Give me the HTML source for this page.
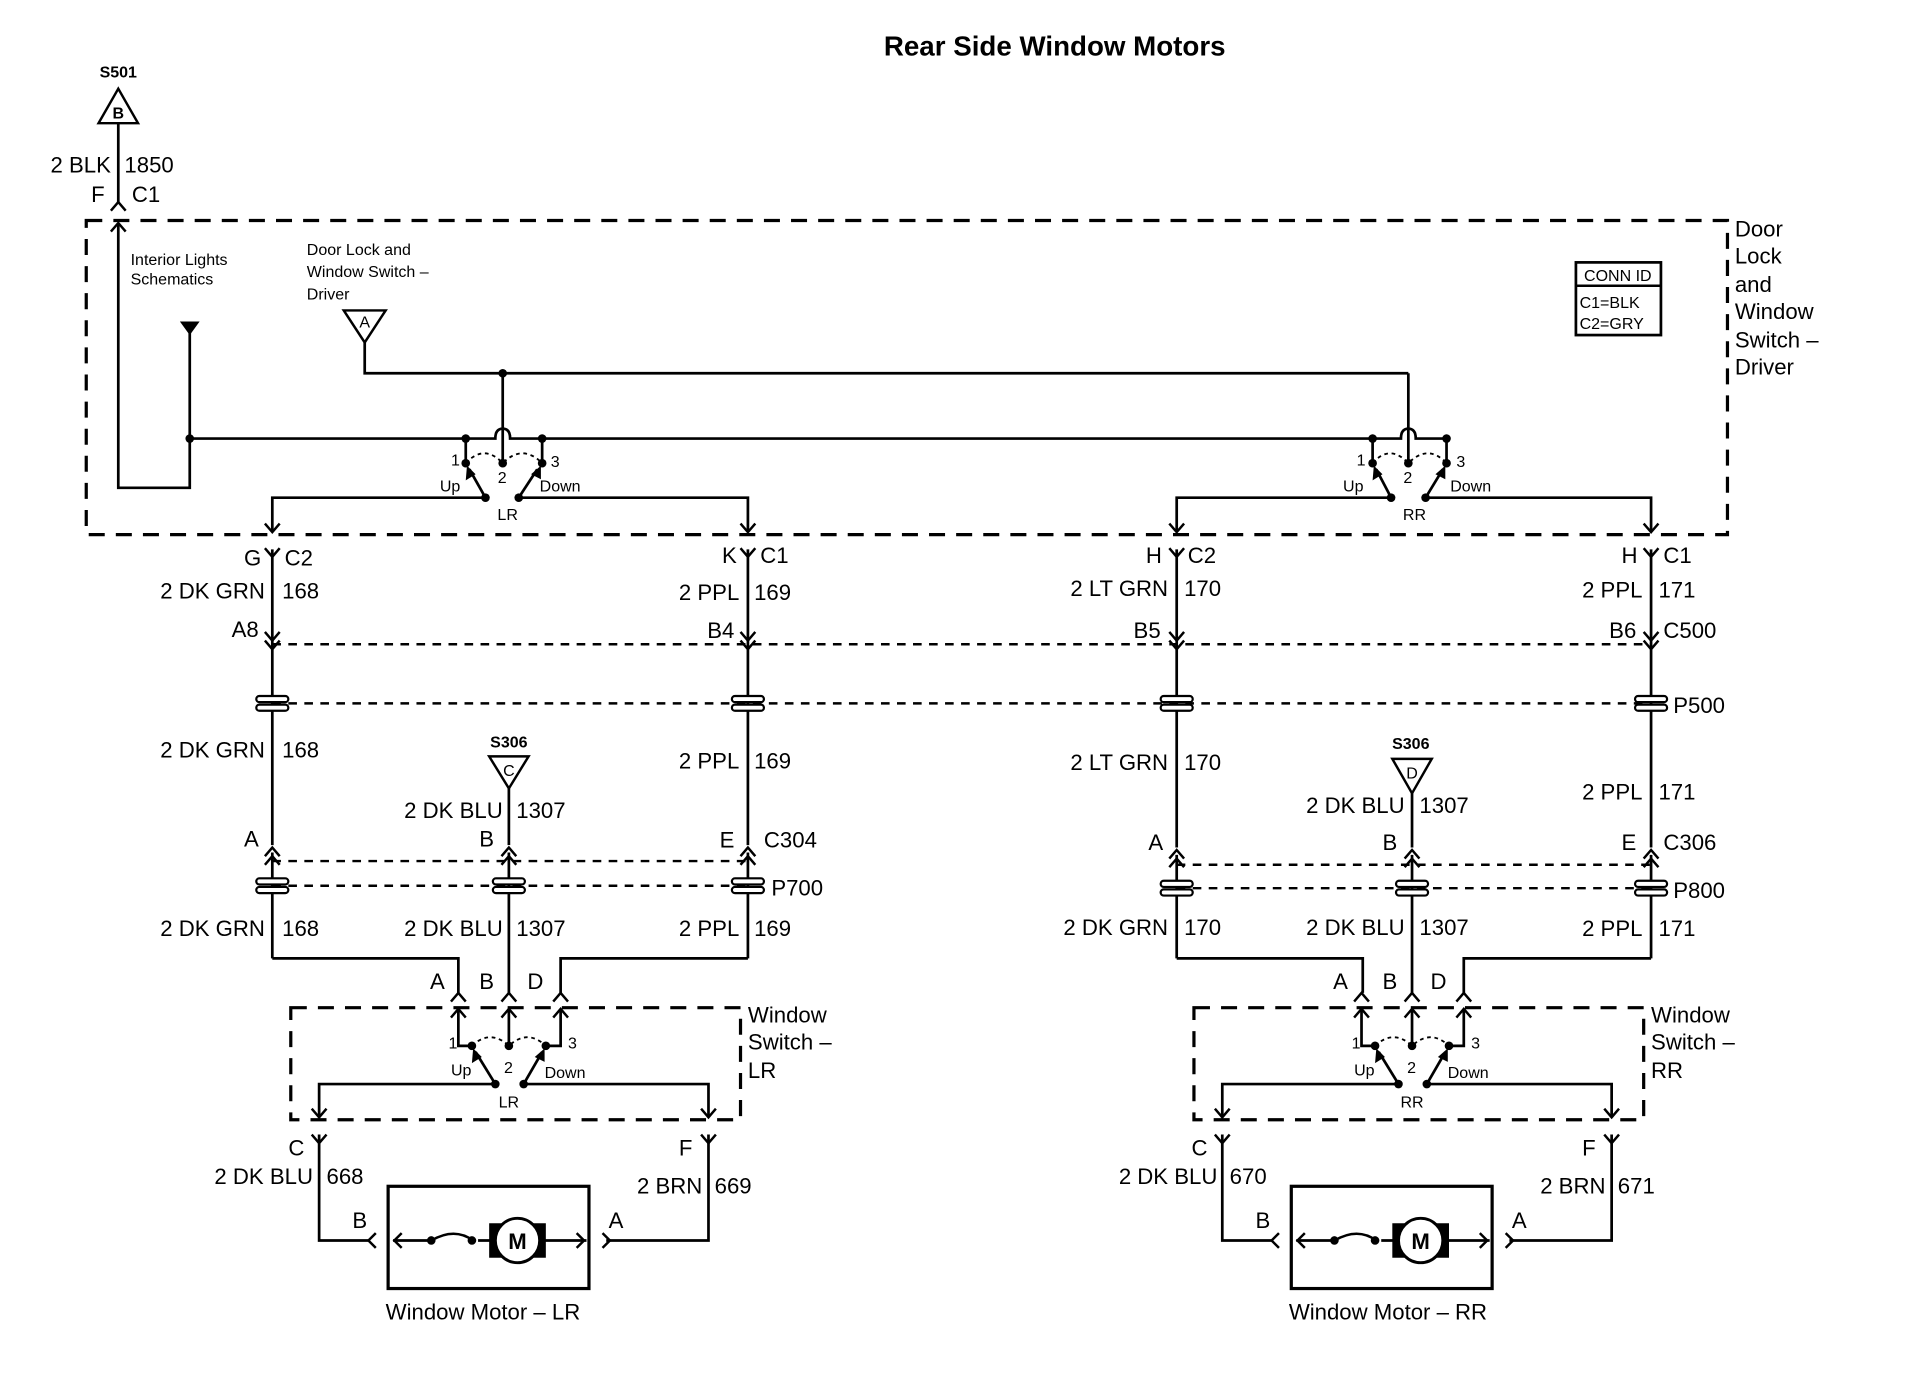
<!DOCTYPE html>
<html><head><meta charset="utf-8"><style>
html,body{margin:0;padding:0;background:#fff;}
svg{display:block;}
text{font-family:"Liberation Sans",Arial,sans-serif;fill:#000;}
.w{font-size:18px;}
.s{font-size:13px;}
.m{font-size:14px;}
</style></head><body>
<svg width="1932" height="1376" viewBox="0 0 1568 1117" preserveAspectRatio="none" xmlns="http://www.w3.org/2000/svg">
<defs>
<path id="cd" d="M-6,-7 L0,0 L6,-7" fill="none" stroke="#000" stroke-width="2"/>
<path id="cu" d="M-6,7 L0,0 L6,7" fill="none" stroke="#000" stroke-width="2"/>
<g id="gr"><rect x="-13" y="-6" width="26" height="5" rx="2.5" fill="#fff" stroke="#000" stroke-width="1.8"/><rect x="-13" y="1" width="26" height="5" rx="2.5" fill="#fff" stroke="#000" stroke-width="1.8"/></g>
</defs>
<text x="856" y="45" text-anchor="middle" font-size="22.5" font-weight="bold">Rear Side Window Motors</text>

<!-- S501 -->
<text x="96" y="63" text-anchor="middle" font-size="13" font-weight="bold">S501</text>
<path d="M80,100 L112,100 L96,72 Z" fill="none" stroke="#000" stroke-width="2"/>
<text x="96" y="96" text-anchor="middle" class="s" font-weight="bold">B</text>
<text x="90" y="140" text-anchor="end" class="w">2 BLK</text>
<text x="101" y="140" class="w">1850</text>
<text x="85" y="164" text-anchor="end" class="w">F</text>
<text x="107" y="164" class="w">C1</text>
<use href="#cu" x="96" y="164"/>
<use href="#cu" x="96" y="181"/>

<g stroke="#000" stroke-width="2.2" fill="none">
<line x1="96" y1="100" x2="96" y2="164"/>
<rect x="70" y="179" width="1332" height="255" stroke-dasharray="13,9" stroke-width="2.6"/>
<polyline points="96,181 96,396 154,396 154,266"/>
<line x1="154" y1="356" x2="378" y2="356"/>
<line x1="440" y1="356" x2="1114" y2="356"/>
<path d="M378,356 L402,356 Q402,348 408,348 Q414,348 414,356 L440,356"/>
<path d="M1114,356 L1137,356 Q1137,348 1143,348 Q1149,348 1149,356 L1174,356"/>
<polyline points="296,278 296,303 1143,303"/>
<line x1="408" y1="303" x2="408" y2="376"/>
<line x1="1143" y1="303" x2="1143" y2="376"/>
<line x1="378" y1="356" x2="378" y2="376"/>
<line x1="440" y1="356" x2="440" y2="376"/>
<line x1="1114" y1="356" x2="1114" y2="376"/>
<line x1="1174" y1="356" x2="1174" y2="376"/>
<path d="M378,376 Q393,360 408,376 Q424,360 440,376" stroke-width="1.5" stroke-dasharray="3,3"/>
<path d="M1114,376 Q1128,360 1143,376 Q1159,360 1174,376" stroke-width="1.5" stroke-dasharray="3,3"/>
<line x1="394" y1="404" x2="381" y2="381"/>
<line x1="421" y1="404" x2="436" y2="381"/>
<line x1="1129" y1="404" x2="1117" y2="381"/>
<line x1="1157" y1="404" x2="1171" y2="381"/>
<polyline points="394,404 221,404 221,432"/>
<polyline points="421,404 607,404 607,432"/>
<polyline points="1129,404 955,404 955,432"/>
<polyline points="1157,404 1340,404 1340,432"/>
</g>
<path d="M146,261 L162,261 L154,272 Z" fill="#000"/>
<path d="M279,252 L313,252 L296,278 Z" fill="none" stroke="#000" stroke-width="2"/>
<text x="296" y="266" text-anchor="middle" class="s">A</text>
<g fill="#000">
<circle cx="154" cy="356" r="3.5"/><circle cx="408" cy="303" r="3.5"/>
<circle cx="378" cy="356" r="3.5"/><circle cx="440" cy="356" r="3.5"/>
<circle cx="378" cy="376" r="3.5"/><circle cx="408" cy="376" r="3.5"/><circle cx="440" cy="376" r="3.5"/>
<circle cx="394" cy="404" r="3.5"/><circle cx="421" cy="404" r="3.5"/>
<circle cx="1114" cy="356" r="3.5"/><circle cx="1174" cy="356" r="3.5"/>
<circle cx="1114" cy="376" r="3.5"/><circle cx="1143" cy="376" r="3.5"/><circle cx="1174" cy="376" r="3.5"/>
<circle cx="1129" cy="404" r="3.5"/><circle cx="1157" cy="404" r="3.5"/>
<path d="M379,378 L378,390 L386,385 Z"/><path d="M439,378 L431,385 L439,389 Z"/>
<path d="M1115,378 L1114,390 L1122,385 Z"/><path d="M1173,378 L1165,385 L1173,389 Z"/>
</g>
<text x="106" y="215" class="s">Interior Lights</text>
<text x="106" y="231" class="s">Schematics</text>
<text x="249" y="207" class="s">Door Lock and</text>
<text x="249" y="225" class="s">Window Switch –</text>
<text x="249" y="243" class="s">Driver</text>
<text x="366" y="378" class="s">1</text><text x="404" y="392" class="s">2</text><text x="447" y="379" class="s">3</text>
<text x="357" y="399" class="s">Up</text><text x="438" y="399" class="s">Down</text><text x="412" y="422" text-anchor="middle" class="s">LR</text>
<text x="1101" y="378" class="s">1</text><text x="1139" y="392" class="s">2</text><text x="1182" y="379" class="s">3</text>
<text x="1090" y="399" class="s">Up</text><text x="1177" y="399" class="s">Down</text><text x="1148" y="422" text-anchor="middle" class="s">RR</text>
<rect x="1279" y="213" width="69" height="59" fill="none" stroke="#000" stroke-width="2.2"/>
<line x1="1279" y1="232" x2="1348" y2="232" stroke="#000" stroke-width="2"/>
<text x="1313" y="228" text-anchor="middle" class="s">CONN ID</text>
<text x="1282" y="250" class="s">C1=BLK</text>
<text x="1282" y="267" class="s">C2=GRY</text>
<text x="1408" y="192" class="w">Door</text>
<text x="1408" y="214" class="w">Lock</text>
<text x="1408" y="237" class="w">and</text>
<text x="1408" y="259" class="w">Window</text>
<text x="1408" y="282" class="w">Switch –</text>
<text x="1408" y="304" class="w">Driver</text>

<use href="#cd" x="221" y="432"/><use href="#cd" x="607" y="432"/><use href="#cd" x="955" y="432"/><use href="#cd" x="1340" y="432"/>

<g stroke="#000" stroke-width="2.2" fill="none">
<line x1="221" y1="446" x2="221" y2="686"/>
<line x1="607" y1="446" x2="607" y2="686"/>
<line x1="955" y1="446" x2="955" y2="688"/>
<line x1="1340" y1="446" x2="1340" y2="688"/>
<line x1="221" y1="692" x2="221" y2="778"/>
<line x1="607" y1="692" x2="607" y2="778"/>
<line x1="955" y1="694" x2="955" y2="778"/>
<line x1="1340" y1="694" x2="1340" y2="778"/>
<line x1="413" y1="640" x2="413" y2="686"/><line x1="413" y1="692" x2="413" y2="806"/>
<line x1="1146" y1="644" x2="1146" y2="688"/><line x1="1146" y1="694" x2="1146" y2="806"/>
<polyline points="221,778 372,778 372,806"/>
<polyline points="607,778 455,778 455,806"/>
<polyline points="955,778 1106,778 1106,806"/>
<polyline points="1340,778 1188,778 1188,806"/>
<line x1="221" y1="523" x2="1340" y2="523" stroke-width="2" stroke-dasharray="7,6"/>
<line x1="221" y1="571" x2="1340" y2="571" stroke-width="2" stroke-dasharray="7,6"/>
<line x1="221" y1="699" x2="607" y2="699" stroke-width="2" stroke-dasharray="7,6"/>
<line x1="221" y1="719" x2="607" y2="719" stroke-width="2" stroke-dasharray="7,6"/>
<line x1="955" y1="702" x2="1340" y2="702" stroke-width="2" stroke-dasharray="7,6"/>
<line x1="955" y1="721" x2="1340" y2="721" stroke-width="2" stroke-dasharray="7,6"/>
</g>
<g fill="#fff">
<path d="M1130,616 L1162,616 L1146,644 Z" stroke="#000" stroke-width="2"/>
<path d="M397,614 L429,614 L413,640 Z" stroke="#000" stroke-width="2"/>
</g>
<text x="413" y="607" text-anchor="middle" font-size="13" font-weight="bold">S306</text>
<text x="413" y="630" text-anchor="middle" class="s">C</text>
<text x="1145" y="608" text-anchor="middle" font-size="13" font-weight="bold">S306</text>
<text x="1146" y="632" text-anchor="middle" class="s">D</text>
<g>
<use href="#cd" x="221" y="452"/><use href="#cd" x="607" y="452"/><use href="#cd" x="955" y="452"/><use href="#cd" x="1340" y="452"/>
<use href="#cd" x="221" y="520"/><use href="#cd" x="607" y="520"/><use href="#cd" x="955" y="520"/><use href="#cd" x="1340" y="520"/>
<use href="#cd" x="221" y="527"/><use href="#cd" x="607" y="527"/><use href="#cd" x="955" y="527"/><use href="#cd" x="1340" y="527"/>
<use href="#gr" x="221" y="571"/><use href="#gr" x="607" y="571"/><use href="#gr" x="955" y="571"/><use href="#gr" x="1340" y="571"/>
<use href="#cu" x="221" y="688"/><use href="#cu" x="413" y="688"/><use href="#cu" x="607" y="688"/>
<use href="#cu" x="221" y="695"/><use href="#cu" x="413" y="695"/><use href="#cu" x="607" y="695"/>
<use href="#cu" x="955" y="690"/><use href="#cu" x="1146" y="690"/><use href="#cu" x="1340" y="690"/>
<use href="#cu" x="955" y="697"/><use href="#cu" x="1146" y="697"/><use href="#cu" x="1340" y="697"/>
<use href="#gr" x="221" y="719"/><use href="#gr" x="413" y="719"/><use href="#gr" x="607" y="719"/>
<use href="#gr" x="955" y="721"/><use href="#gr" x="1146" y="721"/><use href="#gr" x="1340" y="721"/>
</g>
<text x="212" y="459" text-anchor="end" class="w">G</text><text x="231" y="459" class="w">C2</text>
<text x="215" y="486" text-anchor="end" class="w">2 DK GRN</text><text x="229" y="486" class="w">168</text>
<text x="210" y="517" text-anchor="end" class="w">A8</text>
<text x="598" y="457" text-anchor="end" class="w">K</text><text x="617" y="457" class="w">C1</text>
<text x="600" y="487" text-anchor="end" class="w">2 PPL</text><text x="612" y="487" class="w">169</text>
<text x="596" y="518" text-anchor="end" class="w">B4</text>
<text x="943" y="457" text-anchor="end" class="w">H</text><text x="964" y="457" class="w">C2</text>
<text x="948" y="484" text-anchor="end" class="w">2 LT GRN</text><text x="961" y="484" class="w">170</text>
<text x="942" y="518" text-anchor="end" class="w">B5</text>
<text x="1329" y="457" text-anchor="end" class="w">H</text><text x="1350" y="457" class="w">C1</text>
<text x="1333" y="485" text-anchor="end" class="w">2 PPL</text><text x="1346" y="485" class="w">171</text>
<text x="1328" y="518" text-anchor="end" class="w">B6</text><text x="1350" y="518" class="w">C500</text>
<text x="1358" y="579" class="w">P500</text>
<text x="215" y="615" text-anchor="end" class="w">2 DK GRN</text><text x="229" y="615" class="w">168</text>
<text x="600" y="624" text-anchor="end" class="w">2 PPL</text><text x="612" y="624" class="w">169</text>
<text x="408" y="664" text-anchor="end" class="w">2 DK BLU</text><text x="419" y="664" class="w">1307</text>
<text x="210" y="687" text-anchor="end" class="w">A</text><text x="401" y="687" text-anchor="end" class="w">B</text>
<text x="596" y="688" text-anchor="end" class="w">E</text><text x="620" y="688" class="w">C304</text>
<text x="626" y="727" class="w">P700</text>
<text x="215" y="760" text-anchor="end" class="w">2 DK GRN</text><text x="229" y="760" class="w">168</text>
<text x="408" y="760" text-anchor="end" class="w">2 DK BLU</text><text x="419" y="760" class="w">1307</text>
<text x="600" y="760" text-anchor="end" class="w">2 PPL</text><text x="612" y="760" class="w">169</text>
<text x="948" y="625" text-anchor="end" class="w">2 LT GRN</text><text x="961" y="625" class="w">170</text>
<text x="1140" y="660" text-anchor="end" class="w">2 DK BLU</text><text x="1152" y="660" class="w">1307</text>
<text x="1333" y="649" text-anchor="end" class="w">2 PPL</text><text x="1346" y="649" class="w">171</text>
<text x="944" y="690" text-anchor="end" class="w">A</text><text x="1134" y="690" text-anchor="end" class="w">B</text>
<text x="1328" y="690" text-anchor="end" class="w">E</text><text x="1350" y="690" class="w">C306</text>
<text x="1358" y="729" class="w">P800</text>
<text x="948" y="759" text-anchor="end" class="w">2 DK GRN</text><text x="961" y="759" class="w">170</text>
<text x="1140" y="759" text-anchor="end" class="w">2 DK BLU</text><text x="1152" y="759" class="w">1307</text>
<text x="1333" y="760" text-anchor="end" class="w">2 PPL</text><text x="1346" y="760" class="w">171</text>

<g id="lower">
<use href="#cu" x="372" y="806"/><use href="#cu" x="413" y="806"/><use href="#cu" x="455" y="806"/>
<g stroke="#000" stroke-width="2.2" fill="none">
<rect x="236" y="818" width="365" height="91" stroke-dasharray="13,9" stroke-width="2.6"/>
<polyline points="372,819 372,849 383,849"/>
<line x1="413" y1="819" x2="413" y2="849"/>
<polyline points="455,819 455,849 443,849"/>
<path d="M383,849 Q398,835 413,849 Q428,835 443,849" stroke-width="1.5" stroke-dasharray="3,3"/>
<line x1="402" y1="880" x2="386" y2="854"/>
<line x1="425" y1="880" x2="440" y2="854"/>
<polyline points="402,880 259,880 259,907"/>
<polyline points="425,880 575,880 575,907"/>
<polyline points="259,921 259,1007 300,1007"/>
<polyline points="575,921 575,1007 492,1007"/>
<rect x="315" y="963" width="163" height="83" stroke-width="2.6"/>
<line x1="319" y1="1007" x2="476" y2="1007"/>
</g>
<use href="#cu" x="372" y="819"/><use href="#cu" x="413" y="819"/><use href="#cu" x="455" y="819"/>
<use href="#cd" x="259" y="907"/><use href="#cd" x="575" y="907"/>
<use href="#cd" x="259" y="928"/><use href="#cd" x="575" y="928"/>
<path d="M305,1001 L299,1007 L305,1013" fill="none" stroke="#000" stroke-width="2"/>
<path d="M489,1001 L495,1007 L489,1013" fill="none" stroke="#000" stroke-width="2"/>
<path d="M326,1001 L320,1007 L326,1013" fill="none" stroke="#000" stroke-width="2"/>
<path d="M468,1001 L474,1007 L468,1013" fill="none" stroke="#000" stroke-width="2"/>
<rect x="350" y="1000" width="38" height="14" fill="#fff"/>
<path d="M350,1007 Q369,996 384,1007" fill="none" stroke="#000" stroke-width="2"/>
<circle cx="350" cy="1007" r="3.5" fill="#000"/><circle cx="383" cy="1007" r="3.5" fill="#000"/>
<rect x="397" y="993" width="46" height="28" fill="#000"/>
<circle cx="420" cy="1007" r="18" fill="#fff" stroke="#000" stroke-width="2.4"/>
<text x="420" y="1014" text-anchor="middle" font-size="18" font-weight="bold">M</text>
<g fill="#000">
<circle cx="383" cy="849" r="3.5"/><circle cx="413" cy="849" r="3.5"/><circle cx="443" cy="849" r="3.5"/>
<circle cx="402" cy="880" r="3.5"/><circle cx="425" cy="880" r="3.5"/>
<path d="M384,851 L383,863 L391,858 Z"/><path d="M442,851 L434,858 L442,862 Z"/>
</g>
</g>
<use href="#lower" x="733" y="0"/>
<text x="361" y="803" text-anchor="end" class="w">A</text><text x="401" y="803" text-anchor="end" class="w">B</text><text x="441" y="803" text-anchor="end" class="w">D</text>
<text x="364" y="851" class="s">1</text><text x="409" y="871" class="s">2</text><text x="461" y="851" class="s">3</text>
<text x="366" y="873" class="s">Up</text><text x="442" y="875" class="s">Down</text><text x="413" y="899" text-anchor="middle" class="s">LR</text>
<text x="607" y="830" class="w">Window</text><text x="607" y="852" class="w">Switch –</text><text x="607" y="875" class="w">LR</text>
<text x="247" y="938" text-anchor="end" class="w">C</text><text x="562" y="938" text-anchor="end" class="w">F</text>
<text x="254" y="961" text-anchor="end" class="w">2 DK BLU</text><text x="265" y="961" class="w">668</text>
<text x="570" y="969" text-anchor="end" class="w">2 BRN</text><text x="580" y="969" class="w">669</text>
<text x="298" y="997" text-anchor="end" class="w">B</text><text x="494" y="997" class="w">A</text>
<text x="313" y="1071" class="w">Window Motor – LR</text>
<text x="1094" y="803" text-anchor="end" class="w">A</text><text x="1134" y="803" text-anchor="end" class="w">B</text><text x="1174" y="803" text-anchor="end" class="w">D</text>
<text x="1097" y="851" class="s">1</text><text x="1142" y="871" class="s">2</text><text x="1194" y="851" class="s">3</text>
<text x="1099" y="873" class="s">Up</text><text x="1175" y="875" class="s">Down</text><text x="1146" y="899" text-anchor="middle" class="s">RR</text>
<text x="1340" y="830" class="w">Window</text><text x="1340" y="852" class="w">Switch –</text><text x="1340" y="875" class="w">RR</text>
<text x="980" y="938" text-anchor="end" class="w">C</text><text x="1295" y="938" text-anchor="end" class="w">F</text>
<text x="988" y="961" text-anchor="end" class="w">2 DK BLU</text><text x="998" y="961" class="w">670</text>
<text x="1303" y="969" text-anchor="end" class="w">2 BRN</text><text x="1313" y="969" class="w">671</text>
<text x="1031" y="997" text-anchor="end" class="w">B</text><text x="1227" y="997" class="w">A</text>
<text x="1046" y="1071" class="w">Window Motor – RR</text>
</svg>
</body></html>
